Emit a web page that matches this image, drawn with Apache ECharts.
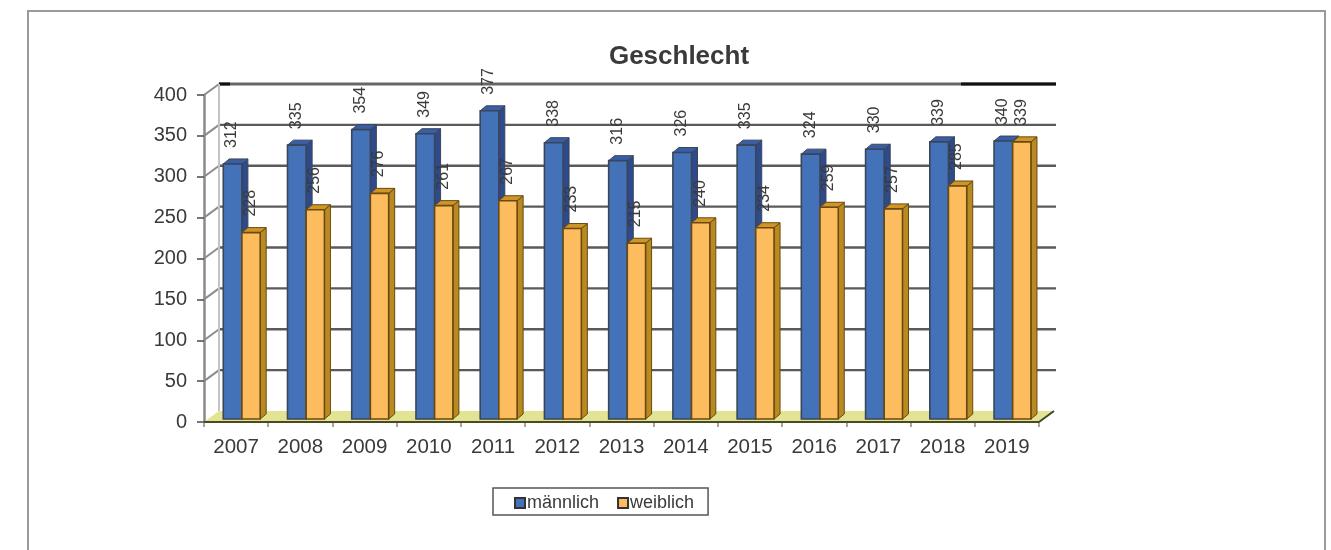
<!DOCTYPE html>
<html>
<head>
<meta charset="utf-8">
<style>
html,body{margin:0;padding:0;background:#fff;}
#c{width:1331px;height:550px;filter:blur(0.45px);}
</style>
<script src="https://cdn.jsdelivr.net/npm/echarts@6/dist/echarts.min.js"></script>
</head>
<body>
<div id="c"></div>
<script>
const years = ['2007','2008','2009','2010','2011','2012','2013','2014','2015','2016','2017','2018','2019'];
const maennlich = [312,335,354,349,377,338,316,326,335,324,330,339,340];
const weiblich = [228,256,276,261,267,233,215,240,234,259,257,285,339];
const yTicks = [0,50,100,150,200,250,300,350,400];
const FONT = '"Liberation Sans", Arial, sans-serif';
const WALL_DX = 15, WALL_DY = -11;
const BAR_DX = 6, BAR_DY = -5, SHIFT_DY = -3;

const chart = echarts.init(document.getElementById('c'));

function barRenderer(x0Frac, x1Frac, cols) {
  return function (params, api) {
    const idx = api.value(0), val = api.value(1);
    const top = api.coord([idx, val]);
    const base = api.coord([idx, 0]);
    const band = api.size([1, 0])[0];
    const x0 = top[0] + band * x0Frac, x1 = top[0] + band * x1Frac;
    const yT = top[1] + SHIFT_DY, yB = base[1] + SHIFT_DY;
    return {
      type: 'group',
      children: [
        { type: 'polygon', shape: { points: [[x1, yT], [x1 + BAR_DX, yT + BAR_DY], [x1 + BAR_DX, yB + BAR_DY], [x1, yB]] },
          style: { fill: cols.side, stroke: cols.line, lineWidth: 1 } },
        { type: 'polygon', shape: { points: [[x0, yT], [x0 + BAR_DX, yT + BAR_DY], [x1 + BAR_DX, yT + BAR_DY], [x1, yT]] },
          style: { fill: cols.top, stroke: cols.line, lineWidth: 1 } },
        { type: 'rect', shape: { x: x0, y: yT, width: x1 - x0, height: yB - yT },
          style: { fill: cols.front, stroke: cols.line, lineWidth: 1.6 } },
        { type: 'text', x: (x0 + x1) / 2 - 0.5, y: yT - 16, rotation: Math.PI / 2,
          style: { text: String(val), fill: '#3a3a3a', font: '16px ' + FONT, align: 'left', verticalAlign: 'middle' } }
      ]
    };
  };
}

function wallRenderer(params, api) {
  const v = api.value(1);
  const p = api.coord([0, v]);
  const band = api.size([1, 0])[0];
  const xL = p[0] - band / 2, xR = xL + band * years.length;
  const y = p[1];
  const kids = [];
  if (v === 0) {
    kids.push({ type: 'polygon', shape: { points: [[xL, y], [xL + WALL_DX, y + WALL_DY], [xR + WALL_DX, y + WALL_DY], [xR, y]] },
      style: { fill: '#e3e394', stroke: null } });
    kids.push({ type: 'line', shape: { x1: xR, y1: y, x2: xR + WALL_DX, y2: y + WALL_DY }, style: { stroke: '#444428', lineWidth: 2 } });
    kids.push({ type: 'line', shape: { x1: xL, y1: y, x2: xR, y2: y }, style: { stroke: '#4b4b22', lineWidth: 2 } });
  } else {
    kids.push({ type: 'line', shape: { x1: xL, y1: y, x2: xL + WALL_DX, y2: y + WALL_DY }, style: { stroke: '#8c8c8c', lineWidth: 2 } });
    kids.push({ type: 'line', shape: { x1: xL + WALL_DX, y1: y + WALL_DY, x2: xR + WALL_DX + 2, y2: y + WALL_DY },
      style: { stroke: v === 400 ? '#666' : '#5a5a5a', lineWidth: v === 400 ? 3 : 2.4 } });
    if (v === 400) {
      kids.push({ type: 'line', shape: { x1: xR - 78, y1: y + WALL_DY, x2: xR + WALL_DX + 2, y2: y + WALL_DY }, style: { stroke: '#111', lineWidth: 3 } });
      kids.push({ type: 'line', shape: { x1: xL + WALL_DX, y1: y + WALL_DY, x2: xL + WALL_DX + 11, y2: y + WALL_DY }, style: { stroke: '#111', lineWidth: 3 } });
      const yz = api.coord([0, 0])[1];
      kids.push({ type: 'line', shape: { x1: xL + WALL_DX, y1: y + WALL_DY, x2: xL + WALL_DX, y2: yz + WALL_DY }, style: { stroke: '#c4c4c4', lineWidth: 2 } });
    }
  }
  return { type: 'group', children: kids };
}

const blueCols = { front: '#4472b8', side: '#2f4a8c', top: '#3a5ea6', line: '#3a4658' };
const orangeCols = { front: '#fdbc5e', side: '#b98a22', top: '#cf9526', line: '#6a4a10' };

chart.setOption({
  animation: false,
  backgroundColor: '#fff',
  title: {
    text: 'Geschlecht', left: 674, top: 39, textAlign: 'center',
    textStyle: { fontFamily: FONT, fontSize: 26, fontWeight: 'bold', color: '#3a3a3a' }
  },
  grid: { left: 204, top: 95, width: 835, height: 327, containLabel: false },
  xAxis: {
    type: 'category', data: years,
    axisLine: { show: false },
    axisTick: { show: true, length: 5, lineStyle: { color: '#888', width: 1.5 } },
    axisLabel: { fontFamily: FONT, fontSize: 20.5, color: '#3a3a3a', margin: 15, interval: 0 }
  },
  yAxis: {
    type: 'value', min: 0, max: 400, interval: 50,
    splitLine: { show: false },
    axisLine: { show: true, lineStyle: { color: '#8a8a8a', width: 2.5 } },
    axisTick: { show: true, length: 7, lineStyle: { color: '#4a4a4a', width: 1.5 } },
    axisLabel: { fontFamily: FONT, fontSize: 20, color: '#3a3a3a', margin: 17 }
  },
  legend: {
    left: 493, top: 488,
    data: [
      { name: 'männlich', itemStyle: { color: '#4472b8', borderColor: '#333', borderWidth: 2 } },
      { name: 'weiblich', itemStyle: { color: '#fdbc5e', borderColor: '#333', borderWidth: 2 } }
    ],
    icon: 'rect', itemWidth: 10, itemHeight: 10, itemGap: 18,
    padding: [6, 14, 3, 21],
    borderColor: '#555', borderWidth: 1.5, backgroundColor: '#fff',
    textStyle: { fontFamily: FONT, fontSize: 18, color: '#3a3a3a', padding: [2, 0, 0, -3] }
  },
  graphic: [{
    type: 'polyline', silent: true,
    shape: { points: [[28, 550], [28, 11], [1325, 11], [1325, 550]] },
    style: { stroke: '#9a9a9a', lineWidth: 2, fill: null }
  }],
  series: [
    { name: 'wall', type: 'custom', z: 1, renderItem: wallRenderer,
      encode: { x: 0, y: 1 }, data: yTicks.map(v => [0, v]), silent: true },
    { name: 'männlich', type: 'custom', z: 3, renderItem: barRenderer(-0.2, 0.09, blueCols),
      itemStyle: { color: '#4472b8' }, encode: { x: 0, y: 1 }, data: maennlich.map((v, i) => [i, v]) },
    { name: 'weiblich', type: 'custom', z: 4, renderItem: barRenderer(0.09, 0.375, orangeCols),
      itemStyle: { color: '#fdbc5e' }, encode: { x: 0, y: 1 }, data: weiblich.map((v, i) => [i, v]) }
  ]
});
</script>
</body>
</html>
